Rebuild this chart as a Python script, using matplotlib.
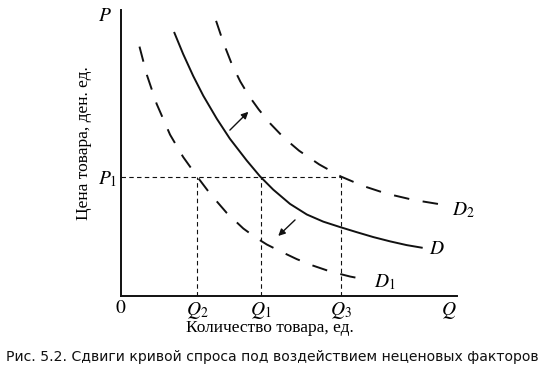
import matplotlib
matplotlib.use('Agg')
import matplotlib.pyplot as plt

plt.rcParams['mathtext.fontset'] = 'stix'
plt.rcParams['font.family'] = 'Liberation Serif'

# кривая спроса D (сплошная)
d_q = [1.59, 1.85, 2.15, 2.45, 2.85, 3.24, 3.74, 4.14, 4.53, 5.03, 5.53, 6.02,
       6.52, 7.02, 7.51, 8.01, 8.50, 8.95]
d_p = [9.20, 8.46, 7.69, 7.00, 6.20, 5.50, 4.74, 4.18, 3.72, 3.22, 2.85, 2.60,
       2.41, 2.23, 2.06, 1.91, 1.78, 1.69]

# D2 - рост спроса
d2_q = [2.83, 3.05, 3.30, 3.55, 3.80, 4.10, 4.45, 4.85, 5.30, 5.90, 6.54, 7.20,
        7.90, 8.70, 9.69]
d2_p = [9.62, 8.85, 8.10, 7.50, 7.01, 6.52, 6.02, 5.53, 5.08, 4.60, 4.18, 3.85,
        3.58, 3.36, 3.17]

# D1 - падение спроса
d1_q = [0.55, 0.77, 1.06, 1.46, 1.85, 2.27, 2.65, 3.15, 3.64, 3.99, 4.34, 4.73,
        5.23, 5.72, 6.22, 6.82, 7.31]
d1_p = [8.72, 7.73, 6.72, 5.64, 4.86, 4.17, 3.58, 2.90, 2.36, 2.06, 1.80, 1.57,
        1.29, 1.06, 0.86, 0.68, 0.57]

p1 = 4.17
q_vals = [2.27, 4.16, 6.54]
q_names = ['$Q_2$', '$Q_1$', '$Q_3$']

# стрелки сдвига: (начало, конец)
arrows = [((3.24, 5.80), (3.79, 6.44)), ((5.18, 2.66), (4.68, 2.10))]

ink = '#111111'

fig = plt.figure(figsize=(5.49, 3.68), dpi=100)
ax = fig.add_axes([121 / 549, 72 / 368, 336 / 549, 286 / 368])
ax.set_xlim(0, 10)
ax.set_ylim(0, 10)

for s in ['top', 'right']:
    ax.spines[s].set_visible(False)
for s in ['left', 'bottom']:
    ax.spines[s].set_linewidth(1.4)
    ax.spines[s].set_color(ink)

ax.plot(d_q, d_p, color=ink, lw=1.4, solid_joinstyle='round')
ax.plot(d2_q, d2_p, color=ink, lw=1.4, dashes=(8, 7))
ax.plot(d1_q, d1_p, color=ink, lw=1.4, dashes=(8, 7))

# пунктирные линии
ax.plot([0, q_vals[-1]], [p1, p1], color=ink, lw=0.8, dashes=(4, 3))
for q in q_vals:
    ax.plot([q, q], [0, p1], color=ink, lw=0.8, dashes=(4, 3))

for (x0, y0), (x1, y1) in arrows:
    ax.annotate('', xy=(x1, y1), xytext=(x0, y0),
                arrowprops=dict(arrowstyle='-|>', color=ink, lw=1.0,
                                mutation_scale=10, shrinkA=0, shrinkB=0))

ax.set_xticks([0] + q_vals)
ax.set_xticklabels(['$0$'] + q_names, fontsize=14)
ax.set_yticks([p1])
ax.set_yticklabels(['$P_1$'], fontsize=14)
ax.tick_params(length=0)
ax.tick_params(axis='x', pad=3)
ax.tick_params(axis='y', pad=3)

ax.text(-0.48, 9.76, '$P$', fontsize=14, ha='center', va='center')
ax.text(9.76, -0.49, '$Q$', fontsize=14, ha='center', va='center')
ax.text(9.40, 1.61, '$D$', fontsize=14, ha='center', va='center')
ax.text(10.18, 3.01, '$D_2$', fontsize=14, ha='center', va='center')
ax.text(7.86, 0.49, '$D_1$', fontsize=14, ha='center', va='center')

ax.text(0.443, -0.112, 'Количество товара, ед.', fontsize=12.5,
        ha='center', va='center', transform=ax.transAxes)
ax.text(-0.110, 0.535, 'Цена товара, ден. ед.', fontsize=12.5, rotation=90,
        ha='center', va='center', transform=ax.transAxes)

fig.text(0.496, 0.03, 'Рис. 5.2. Сдвиги кривой спроса под воздействием неценовых факторов',
         family='DejaVu Sans', fontsize=10.1, ha='center', va='center', color=ink)

fig.savefig('out.png', dpi=100)
